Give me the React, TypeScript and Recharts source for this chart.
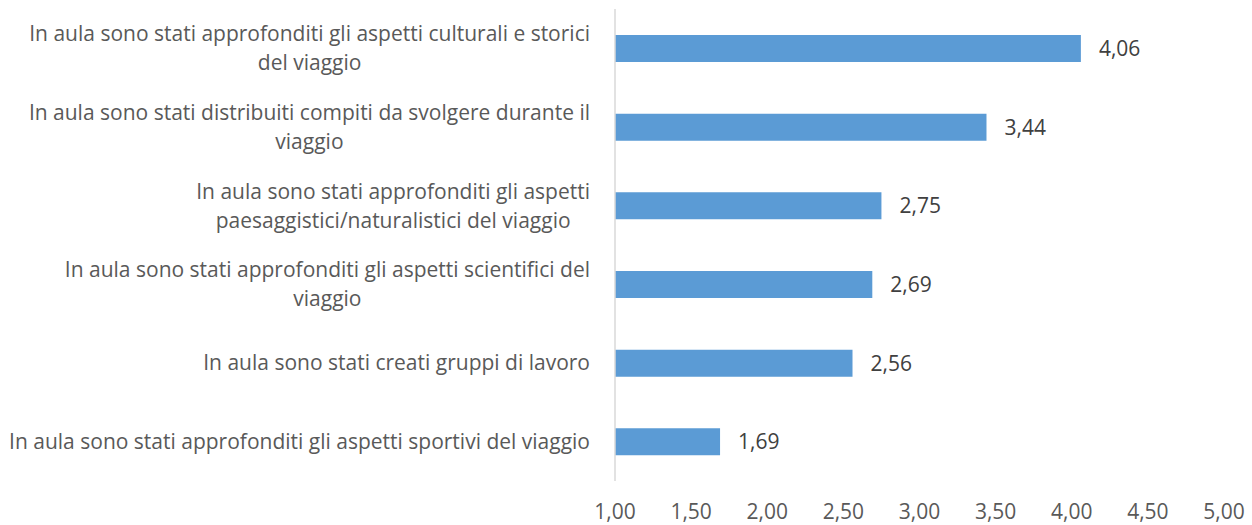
import { Bar, BarChart, LabelList, XAxis, YAxis } from "recharts"

const categories = [
  "In aula sono stati approfonditi gli aspetti culturali e storici\ndel viaggio",
  "In aula sono stati distribuiti compiti da svolgere durante il\nviaggio",
  "In aula sono stati approfonditi gli aspetti\npaesaggistici/naturalistici del viaggio",
  "In aula sono stati approfonditi gli aspetti scientifici del\nviaggio",
  "In aula sono stati creati gruppi di lavoro",
  "In aula sono stati approfonditi gli aspetti sportivi del viaggio",
]
const values = [4.06, 3.44, 2.75, 2.69, 2.56, 1.69]
const xTicks = [1, 1.5, 2, 2.5, 3, 3.5, 4, 4.5, 5]

const data = categories.map((label, i) => ({ label, value: values[i] }))

const FONT = "'Open Sans', sans-serif"
const FONT_SIZE = 21
const LINE_H = 29

const fmt = (v: number) => v.toFixed(2).replace(".", ",")

let ctx: CanvasRenderingContext2D | null = null
function measure(s: string) {
  if (!ctx) ctx = document.createElement("canvas").getContext("2d")
  if (!ctx) return s.length * 9
  ctx.font = `${FONT_SIZE}px 'Open Sans'`
  return ctx.measureText(s).width
}

function CategoryTick(props: any) {
  const { x, y, payload } = props
  const lines: string[] = String(payload.value).split("\n")
  const maxW = Math.max(...lines.map(measure))
  const cx = x - 25 - maxW / 2
  const startY = y - ((lines.length - 1) * LINE_H) / 2
  return (
    <text
      textAnchor="middle"
      fill="#595959"
      fontSize={FONT_SIZE}
      fontFamily={FONT}
    >
      {lines.map((line, i) => (
        <tspan key={i} x={cx} y={startY + i * LINE_H} dy="0.35em">
          {line}
        </tspan>
      ))}
    </text>
  )
}

function ValueTick(props: any) {
  const { x, payload } = props
  return (
    <text
      x={x}
      y={512}
      dy="0.35em"
      textAnchor="middle"
      fill="#595959"
      fontSize={FONT_SIZE}
      fontFamily={FONT}
    >
      {fmt(payload.value)}
    </text>
  )
}

export default function App() {
  return (
    <div style={{ position: "absolute", left: 0, top: 0, background: "#fff" }}>
      <BarChart
        width={1252}
        height={525}
        data={data}
        layout="vertical"
        margin={{ top: 9, right: 28, bottom: 0, left: 0 }}
      >
        <XAxis
          type="number"
          domain={[1, 5]}
          ticks={xTicks}
          axisLine={false}
          tickLine={false}
          tick={<ValueTick />}
          height={44}
          interval={0}
        />
        <YAxis
          type="category"
          dataKey="label"
          width={615}
          tickLine={false}
          tickSize={0}
          tickMargin={0}
          axisLine={{ stroke: "#D9D9D9", strokeWidth: 1.5 }}
          tick={<CategoryTick />}
          interval={0}
        />
        <Bar
          dataKey="value"
          fill="#5B9BD5"
          barSize={27}
          isAnimationActive={false}
        >
          <LabelList
            dataKey="value"
            position="right"
            offset={18}
            formatter={(v: any) => fmt(Number(v))}
            fill="#404040"
            fontSize={FONT_SIZE}
            fontFamily={FONT}
          />
        </Bar>
      </BarChart>
    </div>
  )
}
